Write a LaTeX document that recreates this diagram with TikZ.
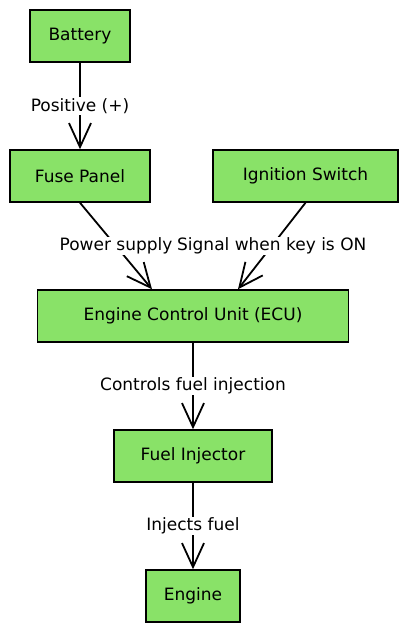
\documentclass[tikz,border=0pt]{standalone}
\usepackage{fontspec}
\setmainfont{DejaVu Sans}
\usetikzlibrary{arrows.meta}
\definecolor{box_green}{RGB}{137,226,104}

\begin{document}
\begin{tikzpicture}[x=1pt,y=-1pt,
    box/.style={draw=black,line width=1.5pt,fill=box_green,minimum height=52pt,inner sep=0pt,font=\fontsize{17}{19}\selectfont},
    flow/.style={line width=1.8pt,-{Straight Barb[length=24pt,width=22pt,line width=1.8pt]}},
    lbl/.style={fill=white,inner sep=1pt,font=\fontsize{17}{19}\selectfont}]

    \useasboundingbox (0,0) rectangle (409,633);

    \node[box,minimum width=100pt] (battery) at (80,36) {Battery};
    \node[box,minimum width=140pt] (fuse) at (80,176) {Fuse Panel};
    \node[box,minimum width=185pt] (ignition) at (305.5,176) {Ignition Switch};
    \node[box,minimum width=311pt] (ecu) at (193,316) {Engine Control Unit (ECU)};
    \node[box,minimum width=158pt] (injector) at (193,456) {Fuel Injector};
    \node[box,minimum width=94pt] (engine) at (193,596) {Engine};

    \draw[flow] (battery) -- (fuse) node[lbl,midway] {Positive (+)};
    \draw[flow] (fuse.south) -- ([xshift=-41pt]ecu.north) node[lbl,midway] {Power supply};
    \draw[flow] (ignition.south) -- ([xshift=45pt]ecu.north) node[lbl,midway] {Signal when key is ON};
    \draw[flow] (ecu) -- (injector) node[lbl,midway] {Controls fuel injection};
    \draw[flow] (injector) -- (engine) node[lbl,midway] {Injects fuel};
\end{tikzpicture}
\end{document}
